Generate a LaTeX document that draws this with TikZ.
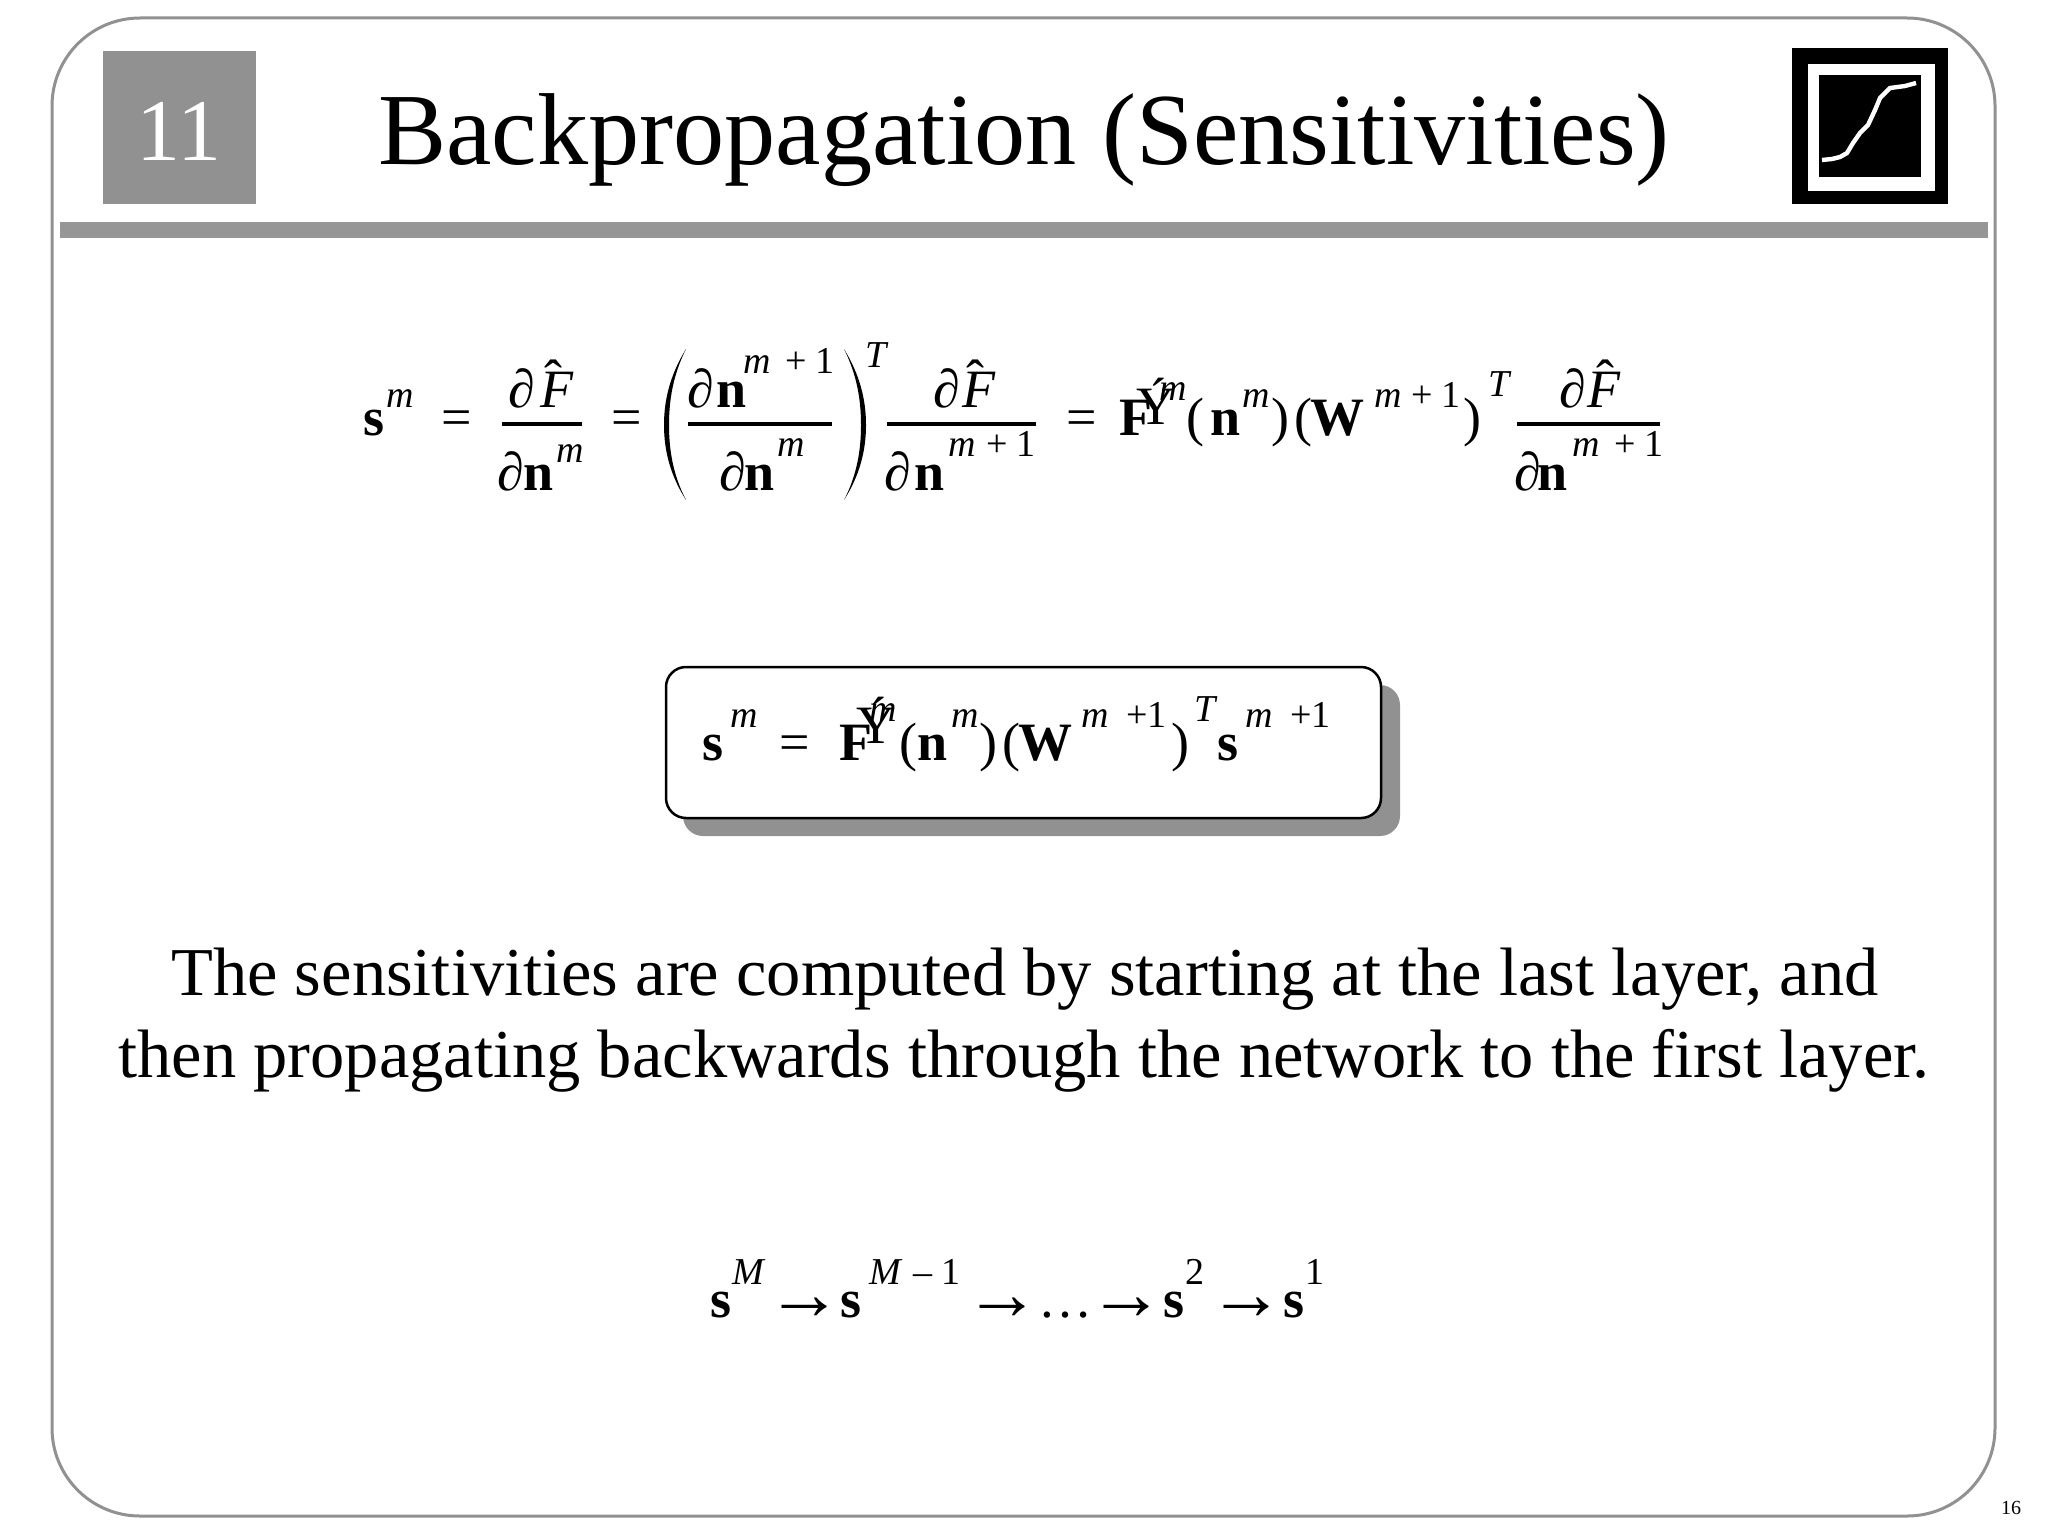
\documentclass[tikz,border=0pt]{standalone}
\usepackage{fontspec}
\setmainfont{Liberation Serif}
\definecolor{slidegray}{HTML}{919191}
\tikzset{x=0.5pt,y=-0.5pt,
 lab/.style={anchor=base west,inner sep=0pt,outer sep=0pt},
 bm/.style={lab,font=\fontsize{27}{27}\selectfont\bfseries},
 rm/.style={lab,font=\fontsize{27}{27}\selectfont},
 im/.style={lab,font=\fontsize{27}{27}\selectfont\itshape},
 ar/.style={lab,font=\fontsize{38}{38}\selectfont},
 ss/.style={lab,font=\fontsize{19}{19}\selectfont\itshape},
 sr/.style={lab,font=\fontsize{19}{19}\selectfont},
 frac/.style={line width=2pt},
 paren/.style={fill=black,draw=none},
 para/.style={anchor=base,inner sep=0pt,outer sep=0pt,font=\fontsize{34.25}{34.25}\selectfont},
}
\begin{document}
\begin{tikzpicture}
\useasboundingbox (0,0) rectangle (2048,1536);
\fill[white] (0,0) rectangle (2048,1536);
% frame
\draw[slidegray,line width=1.5pt,rounded corners=44pt] (52,18) rectangle (1995,1516);
% header
\fill[slidegray] (103,51) rectangle (256,204);
\node[anchor=base,inner sep=0pt,text=white,font=\fontsize{44}{44}\selectfont] (num) at (179,160) {11};
\node[anchor=base west,inner sep=0pt,font=\fontsize{51.1}{51.1}\selectfont] (title) at (378,164) {Backpropagation (Sensitivities)};
\fill[black] (1792,48) rectangle (1948,204);
\fill[white] (1808,64) rectangle (1935,191);
\fill[black] (1819,75) rectangle (1921,177);
\draw[white,line width=2.2pt] (1822,160) -- (1832,159) -- (1840,157) -- (1847,153) -- (1853,143) -- (1860,133) -- (1868,125) -- (1875,110) -- (1880,98) -- (1890,88) -- (1905,86) -- (1916,83);
\fill[slidegray!95!white] (60,222) rectangle (1988,238);
% equation 1
\node[bm] (a1) at (363,435) {s};
\node[ss] (a2) at (386,407) {m};
\node[rm] (a3) at (441,435) {=};
\node[rm] (a4) at (508,407) {∂};
\node[im] (a5) at (540,407) {F};
\node[rm] (a6) at (544,397) {ˆ};
\draw[frac] (502,424) -- (582,424);
\node[rm] (a7) at (497,490) {∂};
\node[bm] (a8) at (523,490) {n};
\node[ss] (a9) at (556,462) {m};
\node[rm] (a10) at (611,435) {=};
\fill[paren] (686,349) .. controls (670,375) and (664,400) .. (664,425) .. controls (664,450) and (670,475) .. (686,500) .. controls (673,475) and (669,450) .. (669,425) .. controls (669,400) and (673,375) .. (686,349) -- cycle;
\fill[paren] (844,349) .. controls (860,375) and (866,400) .. (866,425) .. controls (866,450) and (860,475) .. (844,500) .. controls (857,475) and (861,450) .. (861,425) .. controls (861,400) and (857,375) .. (844,349) -- cycle;
\node[ss] (a11) at (865,367) {T};
\node[rm] (a12) at (687,407) {∂};
\node[bm] (a13) at (716,407) {n};
\node[ss] (a14) at (743,373) {m};
\node[sr] (a15) at (785,373) {+ 1};
\draw[frac] (688,424) -- (832,424);
\node[rm] (a16) at (719,490) {∂};
\node[bm] (a17) at (744,490) {n};
\node[ss] (a18) at (777,456) {m};
\draw[frac] (887,424) -- (1036,424);
\node[rm] (a19) at (933,407) {∂};
\node[im] (a20) at (962,407) {F};
\node[rm] (a21) at (966,397) {ˆ};
\node[rm] (a22) at (884,490) {∂};
\node[bm] (a23) at (914,490) {n};
\node[ss] (a24) at (948,456) {m};
\node[sr] (a25) at (986,456) {+ 1};
\node[rm] (a26) at (1066,435) {=};
\node[bm] (a27) at (1119,435) {F};
\node[rm] (a28) at (1136,424) {Ý};
\node[ss] (a29) at (1159,400) {m};
\node[rm] (a30) at (1186,435) {(};
\node[bm] (a31) at (1210,435) {n};
\node[ss] (a32) at (1242,407) {m};
\node[rm] (a33) at (1271,435) {)};
\node[rm] (a34) at (1294,435) {(};
\node[bm] (a35) at (1310,435) {W};
\node[ss] (a36) at (1374,407) {m};
\node[sr] (a37) at (1411,407) {+ 1};
\node[rm] (a38) at (1463,435) {)};
\node[ss] (a39) at (1488,396) {T};
\draw[frac] (1517,424) -- (1660,424);
\node[rm] (a40) at (1559,407) {∂};
\node[im] (a41) at (1587,407) {F};
\node[rm] (a42) at (1596,397) {ˆ};
\node[rm] (a43) at (1514,490) {∂};
\node[bm] (a44) at (1537,490) {n};
\node[ss] (a45) at (1572,456) {m};
\node[sr] (a46) at (1614,456) {+ 1};
% boxed equation
\fill[slidegray,rounded corners=10pt] (683,685) rectangle (1400,836);
\draw[fill=white,line width=1.25pt,rounded corners=10pt] (666,667) rectangle (1381,818);
\node[bm] (b1) at (702,760) {s};
\node[ss] (b2) at (730,727) {m};
\node[rm] (b3) at (779,760) {=};
\node[bm] (b4) at (839,760) {F};
\node[rm] (b5) at (856,743) {Ý};
\node[ss] (b6) at (869,721) {m};
\node[rm] (b7) at (899,760) {(};
\node[bm] (b8) at (917,760) {n};
\node[ss] (b9) at (951,727) {m};
\node[rm] (b10) at (979,760) {)};
\node[rm] (b11) at (1002,760) {(};
\node[bm] (b12) at (1018,760) {W};
\node[ss] (b13) at (1081,727) {m};
\node[sr] (b14) at (1126,727) {+1};
\node[rm] (b15) at (1171,760) {)};
\node[ss] (b16) at (1194,721) {T};
\node[bm] (b17) at (1217,760) {s};
\node[ss] (b18) at (1245,727) {m};
\node[sr] (b19) at (1290,727) {+1};
% paragraph
\node[para] (p1) at (1025,995) {The sensitivities are computed by starting at the last layer, and};
\node[para] (p2) at (1024,1077) {then propagating backwards through the network to the first layer.};
% chain
\node[bm] (c1) at (710,1317) {s};
\node[ss] (c2) at (732,1284) {M};
\node[ar] (c3) at (766,1319) {→};
\node[bm] (c4) at (840,1317) {s};
\node[ss] (c5) at (869,1284) {M};
\node[sr] (c6) at (913,1284) {– 1};
\node[ar] (c7) at (964,1319) {→};
\node[rm] (c8) at (1038,1317) {…};
\node[ar] (c9) at (1088,1319) {→};
\node[bm] (c10) at (1163,1317) {s};
\node[sr] (c11) at (1185,1284) {2};
\node[ar] (c12) at (1208,1319) {→};
\node[bm] (c13) at (1283,1317) {s};
\node[sr] (c14) at (1305,1284) {1};
% page number
\node[lab,font=\fontsize{10}{10}\selectfont] (pg) at (2001,1514) {16};
\end{tikzpicture}
\end{document}
